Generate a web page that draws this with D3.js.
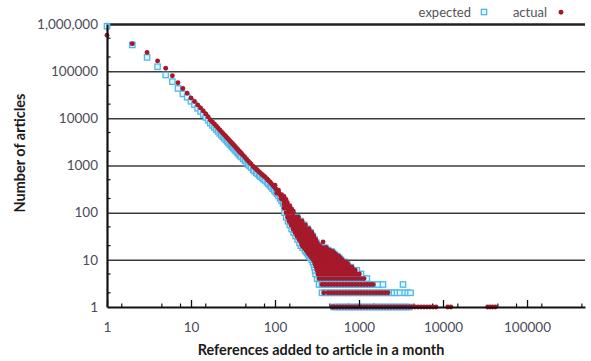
<!DOCTYPE html>
<html>
<head>
<meta charset="utf-8">
<script src="https://cdn.jsdelivr.net/npm/d3@7"></script>
<style>
  body { margin: 0; background: #fff; }
  svg { display: block; }
</style>
</head>
<body>
<svg id="chart" width="591" height="361"></svg>
<script>
// Number of articles by references added to the article in a month,
// expected vs. actual, on log-log axes.

// Head of the distribution: [references, articles]
const expectedHead = [
  [1,900000],[2,360000],[3,196000],[4,124000],[5,83000],[6,60000],[7,43000],[8,33000],
  [9,28000],[10,23000],[11,19500],[12,16300],[13,14000],[14,12100],[15,10500],[16,9100],
  [17,7900],[18,7100],[19,6400],[20,5800],[21,5300],[22,4800],[23,4400],[24,4080],
  [25,3780],[26,3500],[27,3250],[28,3020],[29,2830],[30,2650],[31,2490],[32,2340],
  [33,2200],[34,2080],[35,1960],[36,1850],[37,1750],[38,1670],[39,1590],[40,1510],
  [42,1380],[44,1260],[46,1140],[48,1050],[50,980],[52,910],[55,810],[57,765],[60,705],
  [62,667],[65,620],[67,586],[70,547],[73,514],[76,485],[80,446],[83,412],[87,382],
  [90,353],[94,323],[98,297],[102,272],[106,250],[110,228],[115,201],[120,178],[125,157],
  [130,140],[135,123],[141,109],[147,97]
];
const actualHead = [
  [1,580000],[2,380000],[3,250000],[4,165000],[5,115000],[6,80000],[7,57000],[8,43000],
  [9,34000],[10,27000],[11,22700],[12,19200],[13,16600],[14,14300],[15,12400],[16,10700],
  [17,9200],[18,8360],[19,7580],[20,6870],[21,6250],[22,5650],[23,5200],[24,4810],
  [25,4450],[26,4120],[27,3820],[28,3560],[29,3330],[30,3120],[31,2930],[32,2750],
  [33,2590],[34,2450],[35,2300],[36,2180],[37,2060],[38,1960],[39,1870],[40,1780],
  [42,1620],[44,1480],[46,1340],[48,1240],[50,1150],[52,1070],[55,952],[57,900],[60,830],
  [62,785],[65,728],[67,690],[70,644],[73,605],[76,570],[80,525],[83,485],[87,450],
  [90,415],[94,380],[98,350],[100,380],[102,320],[105,262],[106,295],[110,268],[110,300],
  [115,237],[118,200],[120,210],[120,240],[125,185],[128,152],[128,220],[130,165],[130,190],
  [135,145],[135,190],[140,165],[141,128],[147,114],[150,140],[158,120],[165,108],[373,24]
];

// Tail of the distribution: [articles, [references ...]]
const expectedTail = [
  [1,[500,547,594,645,700,760,825,896,973,1056,1147,1245,1352,1468,1594,1730,1878,2039,2214,2404,2610,2834,3077,3341,3627,3938]],
  [2,[363,394,428,464,504,547,594,645,700,760,825,896,973,1056,1147,1245,1352,1468,1594,1730,1878,2039,2214,2404,2610,2834,3077,3500,3800,4100]],
  [3,[334,363,394,428,464,504,547,594,645,700,760,825,896,973,1056,1147,1245,1352,1468,1680,1930,3340]],
  [4,[318,345,375,407,442,480,521,566,614,667,724,786,854,927,1006,1092,1186,1240]],
  [5,[305,334,363,394,428,464,504,547,594,645,700,760,825,896,973,1056]],
  [6,[300,325,353,383,416,451,490,532,578,628,682,740,804,873,940]],
  [7,[295,320,348,378,410,446,484,525,570,619,672,730,800]],
  [8,[290,314,341,370,402,437,474,515,559,607,659,720]],
  [9,[283,307,334,363,394,428,464,504,547,594,645,680]],
  [10,[274,297,322,350,380,412,448,486,528,573,610]],
  [11,[264,286,310,337,366,397,431,468,508,552,580]],
  [12,[255,277,300,325,353,383,416,451,490,530,550]],
  [13,[248,270,293,318,345,374,406,441,479,510]],
  [14,[241,261,284,308,334,363,394,428,464,490]],
  [15,[234,254,276,300,325,353,383,416,450,470]],
  [16,[228,248,270,293,318,345,374,406,430]],
  [18,[214,232,252,274,297,322,350,380,395]],
  [20,[203,221,240,261,284,308,325]],
  [23,[196,213,231,251,272,295,310]],
  [27,[186,202,219,238,258,280,295]],
  [32,[176,191,207,225,244,265,280]],
  [38,[167,181,197,214,232,252,265]],
  [45,[158,172,186,202,219,238,245]],
  [55,[150,163,177,192,208,222]],
  [66,[143,155,168,182,197,203]],
  [80,[136,147,160,173,183]],
  [100,[130,141,153,158]]
];
const actualTail = [
  [1,[480,504,547,594,645,700,760,825,896,973,1056,1147,1245,1352,1468,1594,1730,1878,2039,2214,2404,2610,2834,3077,3341,3627,3938,4276,4642,5040,5472,5941,6450,7003,7603,8254,11400,12400,34000,36500,39000,42000]],
  [2,[380,428,464,504,547,594,645,700,760,825,896,973,1056,1147,1245,1352,1468,1594,1730,1878,2039,2214]],
  [3,[363,394,428,464,504,547,594,645,700,760,825,896,973,1056,1147,1245,1352,1468]],
  [4,[334,363,394,428,464,504,547,594,645,700,760,825,896,973,1056,1147]],
  [5,[325,352,383,416,452,490,532,578,628,682,740,804,873,948,1010]],
  [6,[318,345,375,407,442,480,521,566,614,667,724,786,854,900]],
  [7,[310,334,363,394,428,464,504,547,594,645,700,760,825]],
  [8,[301,327,355,385,418,455,494,536,582,632,686,745]],
  [9,[295,320,348,378,410,446,484,525,570,619,672,705]],
  [10,[285,308,334,363,394,428,464,504,547,594,630]],
  [11,[274,297,322,350,380,412,448,486,528,573,600]],
  [12,[264,286,310,337,366,397,431,468,508,552,572]],
  [13,[255,277,300,325,353,383,416,451,490,530]],
  [14,[248,270,293,318,345,374,406,441,479,504]],
  [15,[241,261,284,308,334,363,394,428,464,485]],
  [16,[234,254,276,300,325,353,383,416,445]],
  [18,[221,240,261,284,308,334,363,394,410]],
  [20,[210,228,248,270,293,318,340]],
  [23,[204,221,240,261,284,308,318]],
  [27,[193,210,228,248,270,293,305]],
  [32,[182,198,215,234,254,276,290]],
  [38,[173,188,204,221,240,261,275]],
  [45,[164,178,193,210,228,248,255]],
  [55,[155,168,182,198,215,230]],
  [66,[147,159,173,188,204,210]],
  [80,[141,153,166,180,190]],
  [100,[135,146,159,165]],
  [125,[128,139,150]]
];

const xTickValues = [1, 10, 100, 1000, 10000, 100000];
const xTickLabels = ["1", "10", "100", "1000", "10000", "100000"];
const yTickValues = [1, 10, 100, 1000, 10000, 100000, 1000000];
const yTickLabels = ["1", "10", "100", "1000", "10000", "100000", "1,000,000"];
const xMinorMultiples = [1.5, 4.5, 7.5];
const yMinorMultiples = [2, 5];
const seriesNames = ["expected", "actual"];
const xTitle = "References added to article in a month";
const yTitle = "Number of articles";

const plot = { left: 107, right: 585, top: 24, bottom: 307 };
const BLUE = "#4db9ea", RED = "#a6192b", SQ = 5.4;
const LABEL_FONT = "Lato, 'Open Sans', sans-serif";

const svg = d3.select("#chart");

const x = d3.scaleLog().domain([1, 490000]).range([plot.left, plot.right]);
const y = d3.scaleLog().domain([1, 1000000]).range([plot.bottom, plot.top]);

const tailPoints = rows => rows.flatMap(([n, refs]) => refs.map(r => [r, n]));
const expectedPts = expectedHead.concat(tailPoints(expectedTail));
const actualPts = actualHead.concat(tailPoints(actualTail));

// horizontal grid lines at each decade
svg.append("g")
  .attr("transform", `translate(${plot.left},0)`)
  .call(d3.axisLeft(y).tickValues(yTickValues.slice(1)).tickSize(-(plot.right - plot.left)).tickFormat(""))
  .call(g => g.select(".domain").remove())
  .call(g => g.selectAll(".tick line")
    .attr("stroke", d => d === 1000000 ? "#222" : "#3c3c3c")
    .attr("stroke-width", d => d === 1000000 ? 2.6 : 1.5));

// minor ticks
const decades = d3.range(0, 6);
const xMinor = decades.flatMap(d => xMinorMultiples.map(m => m * Math.pow(10, d))).filter(v => v < x.domain()[1]);
const yMinor = decades.flatMap(d => yMinorMultiples.map(m => m * Math.pow(10, d))).filter(v => v < 1000000);

svg.append("g").selectAll("line").data(xMinor).join("line")
  .attr("x1", d => x(d)).attr("x2", d => x(d))
  .attr("y1", plot.bottom).attr("y2", plot.bottom - 3.5)
  .attr("stroke", "#111").attr("stroke-width", 1.2);
svg.append("g").selectAll("line").data(yMinor).join("line")
  .attr("x1", plot.left).attr("x2", plot.left + 3.5)
  .attr("y1", d => y(d)).attr("y2", d => y(d))
  .attr("stroke", "#111").attr("stroke-width", 1.2);

// expected: hollow squares
svg.append("g").selectAll("rect").data(expectedPts).join("rect")
  .attr("x", d => x(d[0]) - SQ / 2).attr("y", d => y(d[1]) - SQ / 2)
  .attr("width", SQ).attr("height", SQ)
  .attr("fill", "#e3f5fd").attr("stroke", BLUE).attr("stroke-width", 1.3);

// actual: filled dots
svg.append("g").selectAll("circle").data(actualPts).join("circle")
  .attr("cx", d => x(d[0])).attr("cy", d => y(d[1]))
  .attr("r", 2.45).attr("fill", RED);

// x axis
const xAxis = svg.append("g")
  .attr("transform", `translate(0,${plot.bottom})`)
  .call(d3.axisBottom(x).tickValues(xTickValues).tickFormat((d, i) => xTickLabels[i])
    .tickSizeInner(-7).tickSizeOuter(0).tickPadding(15));
xAxis.select(".domain").attr("stroke", "#111").attr("stroke-width", 2.2);
xAxis.selectAll(".tick line").attr("stroke", "#111").attr("stroke-width", 1.3);
xAxis.selectAll(".tick text")
  .attr("font-family", LABEL_FONT).attr("font-size", 13.5).attr("fill", "#4b4b58");

// y axis
const yAxis = svg.append("g")
  .attr("transform", `translate(${plot.left},0)`)
  .call(d3.axisLeft(y).tickValues(yTickValues).tickFormat((d, i) => yTickLabels[i])
    .tickSize(0).tickPadding(9));
yAxis.select(".domain").attr("stroke", "#111").attr("stroke-width", 2.2);
yAxis.selectAll(".tick text")
  .attr("font-family", LABEL_FONT).attr("font-size", 13.5).attr("fill", "#4b4b58");

// axis titles
const xt = svg.append("text")
  .attr("x", 321).attr("y", 355)
  .attr("text-anchor", "middle")
  .attr("font-family", LABEL_FONT).attr("font-weight", "bold").attr("font-size", 13)
  .attr("fill", "#1a1a1a").text(xTitle);
const fs = 13 * 247 / xt.node().getComputedTextLength();
xt.attr("font-size", fs);

svg.append("text")
  .attr("transform", "translate(25,153) rotate(-90)")
  .attr("text-anchor", "middle")
  .attr("font-family", LABEL_FONT).attr("font-weight", "bold").attr("font-size", fs)
  .attr("fill", "#1a1a1a").text(yTitle);

// legend
const legend = svg.append("g").attr("font-family", LABEL_FONT).attr("font-size", 13).attr("fill", "#555");
legend.append("text").attr("x", 471).attr("y", 16.5).attr("text-anchor", "end").text(seriesNames[0]);
legend.append("rect").attr("x", 484 - SQ / 2).attr("y", 12 - SQ / 2).attr("width", SQ).attr("height", SQ)
  .attr("fill", "#e3f5fd").attr("stroke", BLUE).attr("stroke-width", 1.3);
legend.append("text").attr("x", 547).attr("y", 16.5).attr("text-anchor", "end").text(seriesNames[1]);
legend.append("circle").attr("cx", 561).attr("cy", 12.3).attr("r", 2.45).attr("fill", RED);
</script>
</body>
</html>
